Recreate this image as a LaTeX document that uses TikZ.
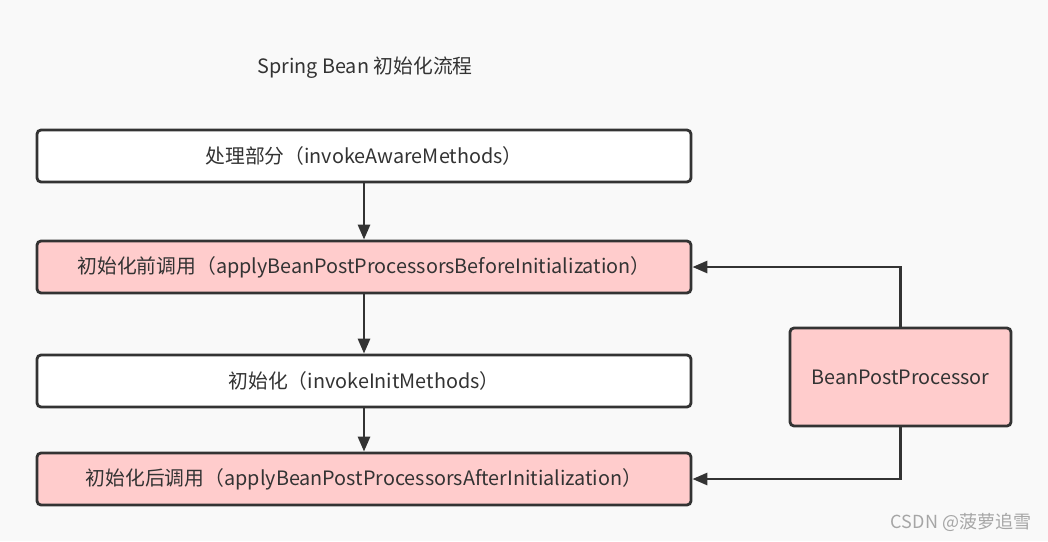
\documentclass[tikz,border=0pt]{standalone}
\usepackage{fontspec}
\setmainfont{Noto Sans CJK SC}
\usetikzlibrary{arrows.meta}
\definecolor{bgc}{HTML}{F9F9F9}
\definecolor{pinkfill}{HTML}{FFCCCC}
\definecolor{edgec}{HTML}{333333}
\definecolor{txtc}{HTML}{333333}
\tikzset{
  box/.style={draw=edgec, line width=2.8pt, rounded corners=4pt, fill=white,
    minimum width=654pt, minimum height=52pt, inner sep=0pt,
    font=\fontsize{19.8}{24}\selectfont, text=txtc},
  pinkbox/.style={box, fill=pinkfill},
  arr/.style={draw=edgec, line width=2.8pt, -{Triangle[length=15pt,width=12pt]}},
}
\begin{document}
\begin{tikzpicture}[x=1pt,y=-1pt]
\fill[bgc] (0,0) rectangle (1048,541);
\useasboundingbox (0,0) rectangle (1048,541);
\node[font=\fontsize{19.8}{24}\selectfont, text=txtc] (title) at (365,68) {Spring Bean 初始化流程};
\node[box] (b1) at (364,156) {处理部分（invokeAwareMethods）};
\node[pinkbox] (b2) at (364,267) {初始化前调用（applyBeanPostProcessorsBeforeInitialization）};
\node[box] (b3) at (364,381) {初始化（invokeInitMethods）};
\node[pinkbox] (b4) at (364,479) {初始化后调用（applyBeanPostProcessorsAfterInitialization）};
\node[pinkbox, minimum width=221pt, minimum height=98pt] (bpp) at (900.5,377) {BeanPostProcessor};
\draw[arr] (b1) -- (b2);
\draw[arr] (b2) -- (b3);
\draw[arr] (b3) -- (b4);
\draw[arr] (bpp.north) |- (b2.east);
\draw[arr] (bpp.south) |- (b4.east);
\node[font=\fontsize{18}{20}\selectfont, text=gray!70] (wm) at (961,522) {CSDN @菠萝追雪};
\end{tikzpicture}
\end{document}
